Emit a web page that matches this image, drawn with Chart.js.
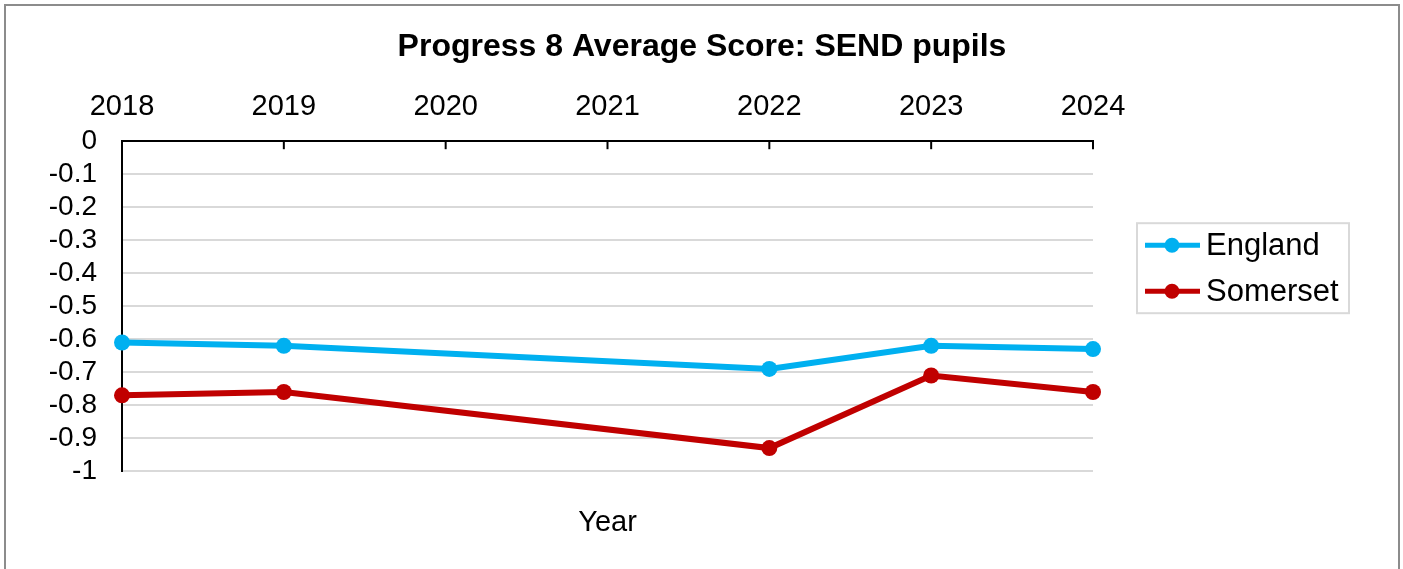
<!DOCTYPE html>
<html>
<head>
<meta charset="utf-8">
<script src="https://cdn.jsdelivr.net/npm/chart.js@4"></script>
<style>
  body { margin: 0; background: #fff; overflow: hidden; }
  .frame { position: absolute; left: 4px; top: 4px; width: 1392px; height: 620px; border: 2px solid #8c8c8c; background: #fff; }
  .frame canvas { position: absolute; left: 0; top: 0; }
</style>
</head>
<body>
<div class="frame"><canvas id="p8Chart" width="1392" height="563"></canvas></div>
<script>
// Progress 8 SEND data (2020 and 2021 not published)
const years = ['2018', '2019', '2020', '2021', '2022', '2023', '2024'];
const england = [-0.61, -0.62, null, null, -0.69, -0.62, -0.63];
const somerset = [-0.77, -0.76, null, null, -0.93, -0.71, -0.76];
const seriesNames = ['England', 'Somerset'];
const seriesColors = ['#00B0F0', '#C00000'];

Chart.defaults.font.family = '"Liberation Sans", Arial, sans-serif';
Chart.defaults.color = '#000';

// small tick marks pointing down from the top axis
const innerTicks = {
    id: 'innerTicks',
    afterDatasetsDraw(chart) {
        const { ctx, chartArea, scales } = chart;
        const x = scales.x;
        ctx.save();
        ctx.strokeStyle = '#000';
        ctx.lineWidth = 2;
        x.ticks.forEach((t, i) => {
            const px = x.getPixelForTick(i);
            ctx.beginPath();
            ctx.moveTo(px, chartArea.top);
            ctx.lineTo(px, chartArea.top + 8);
            ctx.stroke();
        });
        ctx.restore();
    }
};

// Excel style legend box to the right of the plot
const sideLegend = {
    id: 'sideLegend',
    afterDraw(chart) {
        const { ctx, chartArea } = chart;
        const left = chartArea.right + 44;
        const top = chartArea.top + 82;
        ctx.save();
        ctx.strokeStyle = '#d9d9d9';
        ctx.lineWidth = 2;
        ctx.strokeRect(left, top, 212, 90);
        ctx.font = '31px "Liberation Sans", Arial, sans-serif';
        ctx.textBaseline = 'middle';
        chart.data.datasets.forEach((ds, i) => {
            const y = top + 22 + i * 46;
            ctx.strokeStyle = ds.borderColor;
            ctx.lineWidth = 5;
            ctx.beginPath();
            ctx.moveTo(left + 8, y);
            ctx.lineTo(left + 63, y);
            ctx.stroke();
            ctx.fillStyle = ds.borderColor;
            ctx.beginPath();
            ctx.arc(left + 35, y, 7.5, 0, Math.PI * 2);
            ctx.fill();
            ctx.fillStyle = '#000';
            ctx.fillText(ds.label, left + 69, y + 1);
        });
        ctx.restore();
    }
};

const p8Chart = new Chart(document.getElementById('p8Chart'), {
    type: 'line',
    data: {
        labels: years,
        datasets: [england, somerset].map((vals, i) => ({
            label: seriesNames[i],
            data: vals,
            borderColor: seriesColors[i],
            backgroundColor: seriesColors[i],
            borderWidth: 6,
            pointRadius: 8,
            pointHoverRadius: 8,
            pointBorderWidth: 0,
            tension: 0,
            spanGaps: true,
            clip: false
        }))
    },
    options: {
        responsive: false,
        animation: false,
        layout: {
            padding: { left: 20, right: 20, top: 0, bottom: 29 }
        },
        plugins: {
            legend: { display: false },
            tooltip: { enabled: false },
            title: {
                display: true,
                text: 'Progress 8 Average Score: SEND pupils',
                font: { size: 32, weight: 'bold' },
                color: '#000',
                padding: { top: 22, bottom: 6 }
            }
        },
        scales: {
            x: {
                position: 'top',
                offset: false,
                grid: { display: false, drawTicks: false },
                border: { display: true, color: '#000', width: 2 },
                ticks: { font: { size: 29 }, padding: 17, maxRotation: 0 }
            },
            xTitle: {
                type: 'category',
                position: 'bottom',
                labels: years,
                grid: { display: false, drawTicks: false },
                border: { display: false },
                ticks: { display: false },
                title: {
                    display: true,
                    text: 'Year',
                    font: { size: 29 },
                    color: '#000',
                    padding: { top: 34, bottom: 0 }
                }
            },
            y: {
                min: -1,
                max: 0,
                afterFit: s => { s.width = 96; },
                grid: { color: '#d9d9d9', lineWidth: 2, drawTicks: false },
                border: { display: true, color: '#000', width: 2 },
                ticks: {
                    stepSize: 0.1,
                    autoSkip: false,
                    padding: 25,
                    font: { size: 28 },
                    callback: v => String(Math.round(v * 10) / 10)
                }
            },
            // empty right-hand axis that keeps room for the legend
            yRight: {
                position: 'right',
                afterFit: s => { s.width = 285; },
                grid: { display: false, drawTicks: false },
                border: { display: false },
                ticks: { display: false }
            }
        }
    },
    plugins: [innerTicks, sideLegend]
});
</script>
</body>
</html>
